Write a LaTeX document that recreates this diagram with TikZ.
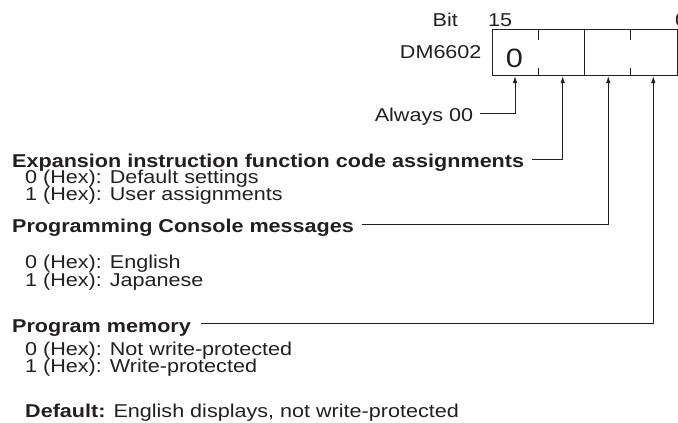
\documentclass[tikz,border=0pt]{standalone}
\usepackage{fontspec}
\setmainfont{Liberation Sans}[FakeStretch=1.16]
\usetikzlibrary{arrows.meta}
\definecolor{ink}{HTML}{231F20}
\begin{document}
\begin{tikzpicture}[x=1pt,y=-1pt,
  txt/.style={inner sep=0pt, text=ink, font=\fontsize{18.6}{16.7}\selectfont},
  head/.style={txt, font=\fontsize{18.6}{16.7}\selectfont\bfseries},
  conn/.style={draw=ink, line width=0.9pt, -{Latex[length=7pt,width=4.6pt]}},
  regbox/.style={draw=ink, line width=1.1pt, inner sep=0pt, minimum width=185.3pt, minimum height=45.7pt, anchor=north west},
  tick/.style={draw=ink, line width=1pt}]
\useasboundingbox (0,0) rectangle (678,423);
% register
\node[regbox] (reg) at (491.7,29.3) {};
\node[txt, anchor=base east] (bit) at (458,26) {Bit};
\node[txt, anchor=base west] (b15) at (488,26) {15};
\node[txt, anchor=base west] (b0) at (675,26) {0};
\node[txt, anchor=base east] (dm) at (481.7,58) {DM6602};
\node[txt, font=\fontsize{26.5}{26}\selectfont, anchor=base] (zero) at (514.5,67) {0};
% dividers
\draw[tick] ([xshift=92.5pt]reg.north west) -- ([xshift=92.5pt]reg.south west);
\draw[tick] ([xshift=46.6pt]reg.north west) -- ++(0,11);
\draw[tick] ([xshift=46.6pt]reg.south west) -- ++(0,-8);
\draw[tick] ([xshift=138.3pt]reg.north west) -- ++(0,11);
\draw[tick] ([xshift=138.3pt]reg.south west) -- ++(0,-8);
% arrow targets on the register
\coordinate (p1) at ([xshift=23.3pt]reg.south west);
\coordinate (p2) at ([xshift=71pt]reg.south west);
\coordinate (p3) at ([xshift=116.6pt]reg.south west);
\coordinate (p4) at ([xshift=161.6pt]reg.south west);
% labels
\node[txt, anchor=base east] (alw) at (473.3,121) {Always 00};
\node[head, anchor=base west] (exp) at (12,167) {Expansion instruction function code assignments};
\node[txt, anchor=base west] (exp0) at (25,183.5) {0 (Hex): Default settings};
\node[txt, anchor=base west] (exp1) at (25,200) {1 (Hex): User assignments};
\node[head, anchor=base west] (pcm) at (12,232) {Programming Console messages};
\node[txt, anchor=base west] (pcm0) at (25,268) {0 (Hex): English};
\node[txt, anchor=base west] (pcm1) at (25,286) {1 (Hex): Japanese};
\node[head, anchor=base west] (pm) at (12,332) {Program memory};
\node[txt, anchor=base west] (pm0) at (25,355) {0 (Hex): Not write-protected};
\node[txt, anchor=base west] (pm1) at (25,372) {1 (Hex): Write-protected};
\node[txt, anchor=base west] (dflt) at (25,417) {\textbf{Default:} English displays, not write-protected};
% line starts
\coordinate (s1) at ([xshift=7pt]alw.east |- 0,113.5);
\coordinate (s2) at ([xshift=8pt]exp.east |- 0,159);
\coordinate (s3) at ([xshift=8pt]pcm.east |- 0,224.5);
\coordinate (s4) at ([xshift=10pt]pm.east |- 0,323.5);
% connectors
\draw[conn] (s1) -| (p1);
\draw[conn] (s2) -| (p2);
\draw[conn] (s3) -| (p3);
\draw[conn] (s4) -| (p4);
\end{tikzpicture}
\end{document}
